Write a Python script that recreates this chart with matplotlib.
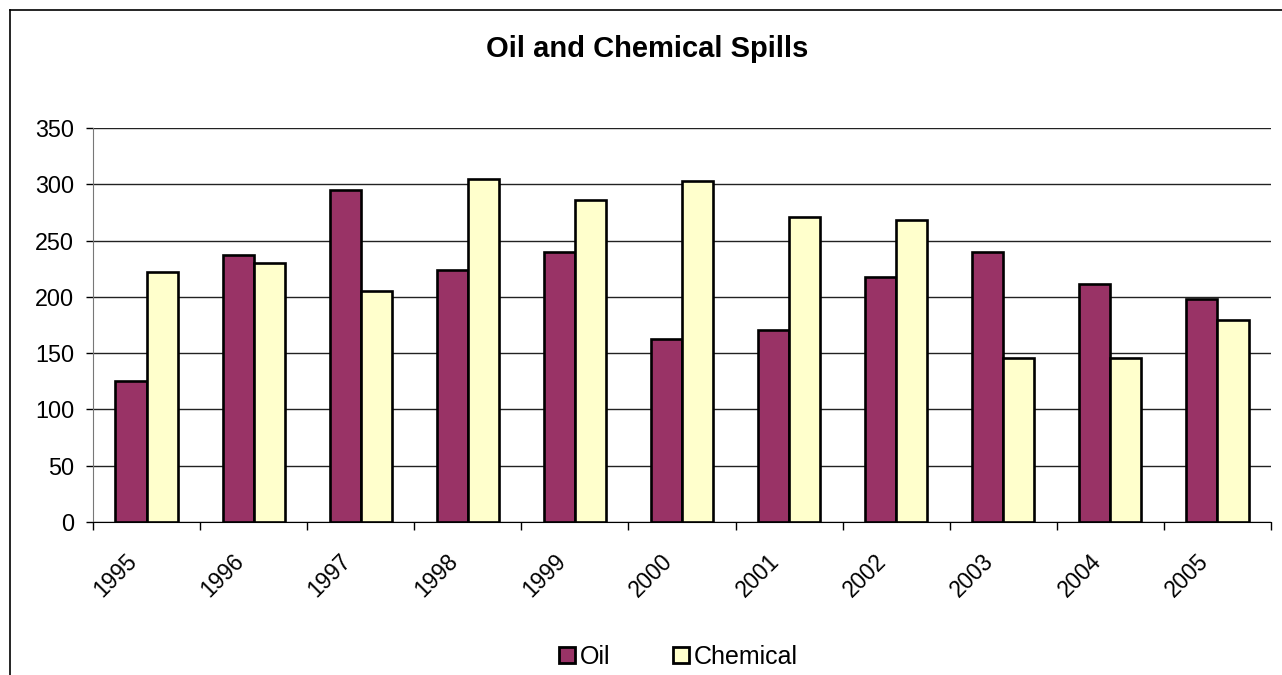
import matplotlib.pyplot as plt
from matplotlib.lines import Line2D
from matplotlib.transforms import ScaledTranslation
import numpy as np

years = ['1995', '1996', '1997', '1998', '1999', '2000',
         '2001', '2002', '2003', '2004', '2005']
oil = [125, 237, 295, 224, 240, 163, 171, 218, 240, 211, 198]
chemical = [222, 230, 205, 305, 286, 303, 271, 268, 146, 146, 179]

plt.rcParams['font.family'] = ['Liberation Sans', 'DejaVu Sans']

W, H = 1282, 675
fig = plt.figure(figsize=(W / 100, H / 100), dpi=100)
ax = fig.add_axes([93 / W, 1 - 522 / H, (1271 - 93) / W, (522 - 128) / H])

x = np.arange(len(years))
bw = 0.29
ax.bar(x - bw / 2, oil, bw, color='#993366', edgecolor='black',
       linewidth=1.9, label='Oil', zorder=3)
ax.bar(x + bw / 2, chemical, bw, color='#FFFFCC', edgecolor='black',
       linewidth=1.9, label='Chemical', zorder=3)

ax.set_xlim(-0.5, len(years) - 0.5)
ax.set_ylim(0, 350)
ax.set_yticks(range(0, 351, 50))
ax.yaxis.grid(True, color='#222222', linewidth=1.0, zorder=0)

# tick marks sit on the category boundaries
ax.set_xticks(np.arange(-0.5, len(years)), labels=[])
ax.tick_params(axis='x', length=6, width=1, direction='out')
ax.tick_params(axis='y', length=5, width=1, labelsize=16.8, pad=8.5)

# slanted year labels under each category centre
shift = ScaledTranslation(-0.13, -0.36, fig.dpi_scale_trans)
for xi, yr in zip(x, years):
    ax.text(xi, 0, yr, rotation=45, ha='right', va='center',
            rotation_mode='anchor', fontsize=16.3,
            transform=ax.get_xaxis_transform() + shift)

for s in ('top', 'right'):
    ax.spines[s].set_visible(False)
ax.spines['left'].set_color('#777777')
ax.spines['bottom'].set_color('black')

fig.text(647 / W, 1 - 57 / H, 'Oil and Chemical Spills', ha='center',
         va='baseline', fontsize=21, fontweight='bold')

leg = fig.legend(loc='center', bbox_to_anchor=(678 / W, 1 - 657 / H), ncol=2,
                 frameon=False, fontsize=18, handlelength=0.64,
                 handleheight=0.64, handletextpad=0.2, columnspacing=2.5)
for p in leg.get_patches():
    p.set_linewidth(2.0)

# outer chart border
fig.add_artist(Line2D([10 / W, 1], [1 - 10 / H, 1 - 10 / H], color='black',
                      linewidth=1.2, transform=fig.transFigure))
fig.add_artist(Line2D([10 / W, 10 / W], [0, 1 - 10 / H], color='black',
                      linewidth=1.2, transform=fig.transFigure))

fig.savefig('out.png', dpi=100)
